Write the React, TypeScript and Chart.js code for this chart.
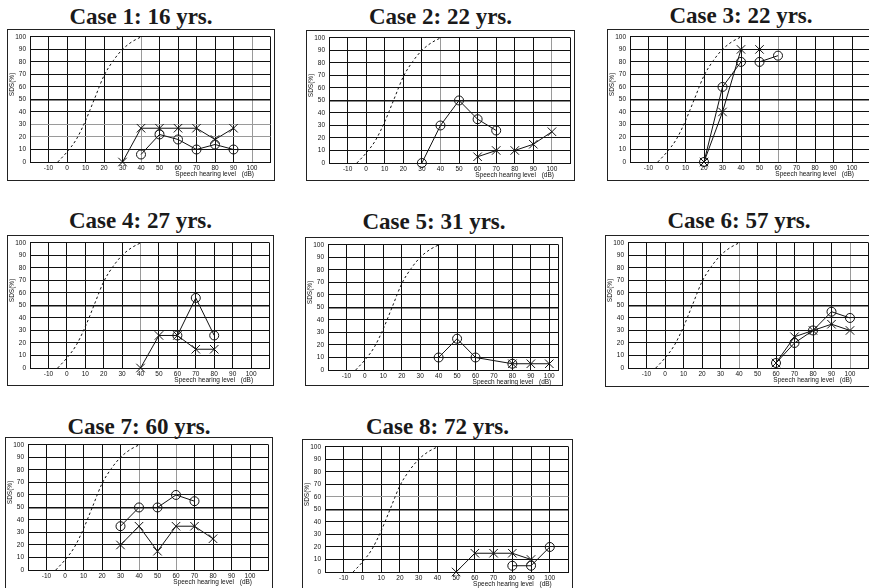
import React, { useEffect, useRef } from 'react';
import Chart from 'chart.js/auto';

type Pt = [number, number];

// Reference curve for normal hearing (speech level in dB vs. score in %)
const normalLevels = [-5, 0, 5, 10, 15, 20, 25, 30, 35, 40];
const normalScores = [0, 8, 18, 33, 51, 69, 81, 90, 96, 100];

const yTickValues = [0, 10, 20, 30, 40, 50, 60, 70, 80, 90, 100];
const xTickValues = [-20, -10, 0, 10, 20, 30, 40, 50, 60, 70, 80, 90, 100];
const xLabelledTicks = [-10, 0, 10, 20, 30, 40, 50, 60, 70, 80, 90, 100];

const caseTitles = [
  'Case 1: 16 yrs.',
  'Case 2: 22 yrs.',
  'Case 3: 22 yrs.',
  'Case 4: 27 yrs.',
  'Case 5: 31 yrs.',
  'Case 6: 57 yrs.',
  'Case 7: 60 yrs.',
  'Case 8: 72 yrs.',
];

// Measured scores: circles (○) and crosses (×); separate arrays where the trace is broken
const case1Circles: Pt[] = [[40, 6], [50, 22], [60, 18], [70, 10], [80, 14], [90, 10]];
const case1Crosses: Pt[] = [[30, 0], [40, 27], [50, 27], [60, 27], [70, 27], [80, 18], [90, 27]];

const case2Circles: Pt[] = [[30, 0], [40, 30], [50, 50], [60, 35], [70, 26]];
const case2Crosses: Pt[] = [[60, 5], [70, 10], [80, 10], [90, 15], [100, 25]];

const case3Circles: Pt[] = [[20, 0], [30, 60], [40, 80]];
const case3CirclesB: Pt[] = [[50, 80], [60, 85]];
const case3Crosses: Pt[] = [[20, 0], [30, 40], [40, 90]];
const case3CrossesB: Pt[] = [[50, 90]];

const case4Circles: Pt[] = [[60, 26], [70, 56], [80, 26]];
const case4Crosses: Pt[] = [[40, 0], [50, 26], [60, 26], [70, 15], [80, 15]];

const case5Circles: Pt[] = [[40, 10], [50, 25], [60, 10], [80, 5]];
const case5Crosses: Pt[] = [[80, 5], [90, 5], [100, 5]];

const case6Circles: Pt[] = [[60, 4], [70, 20], [80, 30], [90, 45], [100, 40]];
const case6Crosses: Pt[] = [[60, 4], [70, 25], [80, 30], [90, 35], [100, 30]];

const case7Circles: Pt[] = [[30, 35], [40, 50]];
const case7CirclesB: Pt[] = [[50, 50], [60, 60], [70, 55]];
const case7Crosses: Pt[] = [[30, 20], [40, 35], [50, 15], [60, 35], [70, 35], [80, 25]];

const case8Circles: Pt[] = [[80, 5], [90, 5], [100, 20]];
const case8Crosses: Pt[] = [[50, 0], [60, 15], [70, 15], [80, 15], [90, 10]];

const caseCircles: Pt[][][] = [
  [case1Circles],
  [case2Circles],
  [case3Circles, case3CirclesB],
  [case4Circles],
  [case5Circles],
  [case6Circles],
  [case7Circles, case7CirclesB],
  [case8Circles],
];
const caseCrosses: Pt[][][] = [
  [case1Crosses],
  [case2Crosses],
  [case3Crosses, case3CrossesB],
  [case4Crosses],
  [case5Crosses],
  [case6Crosses],
  [case7Crosses],
  [case8Crosses],
];
const caseXMax = [110, 110, 110, 110, 105, 110, 110, 110];

// Panel frames on the page
interface Frame {
  left: number;
  top: number;
  width: number;
  height: number;
  titleTop: number;
  lightX: number[];
  lightY: number[];
}
const frames: Frame[] = [
  { left: 7, top: 29, width: 268, height: 152, titleTop: 4.5, lightX: [40, 100], lightY: [20, 30] },
  { left: 306, top: 30, width: 269, height: 151, titleTop: 4.5, lightX: [40, 100], lightY: [] },
  { left: 607, top: 29, width: 268, height: 152, titleTop: 4, lightX: [60], lightY: [] },
  { left: 7, top: 235, width: 267, height: 151, titleTop: 208.5, lightX: [40], lightY: [] },
  { left: 305, top: 237, width: 258, height: 149, titleTop: 209.5, lightX: [], lightY: [] },
  { left: 605, top: 235, width: 268, height: 152, titleTop: 208.5, lightX: [40, 100], lightY: [] },
  { left: 5, top: 437, width: 268, height: 152, titleTop: 414.5, lightX: [40, 60], lightY: [] },
  { left: 302, top: 439, width: 271, height: 150, titleTop: 414.5, lightX: [], lightY: [60] },
];

const PLOT_LEFT = 23;
const PLOT_TOP = 6;
const PLOT_HEIGHT = 127;
const PLOT_RIGHT_PAD = 4.5;
const INK = '#111';
const LIGHT = '#9a9a9a';
const SANS = '"Liberation Sans", Arial, sans-serif';

Chart.defaults.font.family = SANS;

const toXY = (pts: Pt[]) => pts.map(([x, y]) => ({ x, y }));

const frameDecor = {
  id: 'frameDecor',
  afterDraw(chart: any) {
    const { ctx, width, height, scales } = chart;
    ctx.save();
    ctx.strokeStyle = '#222';
    ctx.lineWidth = 1;
    ctx.strokeRect(0.5, 0.5, width - 1, height - 1);

    ctx.fillStyle = INK;
    ctx.font = `6.5px ${SANS}`;
    // y-axis title
    ctx.save();
    ctx.translate(5.5, scales.y.getPixelForValue(62));
    ctx.rotate(-Math.PI / 2);
    ctx.textAlign = 'center';
    ctx.textBaseline = 'middle';
    ctx.fillText('SDS(%)', 0, 0);
    ctx.restore();

    // x-axis title
    const yTitle = chart.chartArea.bottom + 12;
    const x100 = scales.x.getPixelForValue(100);
    ctx.textBaseline = 'middle';
    ctx.textAlign = 'right';
    ctx.fillText('(dB)', x100 + 2, yTitle);
    ctx.fillText('Speech hearing level', x100 - 16, yTitle);
    ctx.restore();
  },
};

function Panel({ index }: { index: number }) {
  const ref = useRef<HTMLCanvasElement>(null);
  const f = frames[index];

  useEffect(() => {
    if (!ref.current) return;
    const xMax = caseXMax[index];
    const xTicks = xMax === 110 ? [...xTickValues, 110] : [...xTickValues, xMax];

    const markerLine = {
      showLine: true,
      borderColor: INK,
      borderWidth: 1,
      pointBorderColor: INK,
      pointBorderWidth: 1,
      pointBackgroundColor: 'rgba(0,0,0,0)',
      clip: false as const,
    };

    const datasets: any[] = [
      {
        data: normalLevels.map((x, i) => ({ x, y: normalScores[i] })),
        borderColor: INK,
        borderWidth: 1,
        borderDash: [2.5, 2.5],
        pointRadius: 0,
        cubicInterpolationMode: 'monotone',
        clip: false,
      },
    ];
    caseCircles[index].forEach((pts) =>
      datasets.push({ ...markerLine, data: toXY(pts), pointStyle: 'circle', pointRadius: 4.5 })
    );
    caseCrosses[index].forEach((pts) =>
      datasets.push({ ...markerLine, data: toXY(pts), pointStyle: 'crossRot', pointRadius: 6 })
    );

    const chart = new Chart(ref.current, {
      type: 'line',
      data: { datasets },
      options: {
        animation: false,
        responsive: false,
        events: [],
        layout: {
          autoPadding: false,
          padding: { left: 0, top: PLOT_TOP, right: PLOT_RIGHT_PAD, bottom: 0 },
        },
        plugins: { legend: { display: false }, tooltip: { enabled: false } },
        scales: {
          x: {
            type: 'linear',
            min: -20,
            max: xMax,
            afterBuildTicks: (s: any) => {
              s.ticks = xTicks.map((value) => ({ value }));
            },
            afterFit: (s: any) => {
              s.height = f.height - PLOT_TOP - PLOT_HEIGHT;
            },
            ticks: {
              autoSkip: false,
              maxRotation: 0,
              padding: 2,
              color: INK,
              font: { size: 6.5 },
              callback: (v: any) => (xLabelledTicks.includes(Number(v)) ? String(v) : ''),
            },
            grid: {
              drawTicks: false,
              lineWidth: 1,
              color: (c: any) => (f.lightX.includes(c.tick?.value) ? LIGHT : INK),
            },
            border: { display: true, color: INK, width: 1 },
          },
          y: {
            type: 'linear',
            min: 0,
            max: 100,
            afterBuildTicks: (s: any) => {
              s.ticks = yTickValues.map((value) => ({ value }));
            },
            afterFit: (s: any) => {
              s.width = PLOT_LEFT;
            },
            ticks: {
              padding: 4,
              color: INK,
              font: { size: 6.5 },
              callback: (v: any) => String(v),
            },
            grid: {
              drawTicks: false,
              color: (c: any) => (f.lightY.includes(c.tick?.value) ? LIGHT : INK),
              lineWidth: (c: any) => (c.tick?.value === 50 ? 1.5 : 1),
            },
            border: { display: true, color: INK, width: 1 },
          },
        },
      },
      plugins: [frameDecor],
    });
    return () => chart.destroy();
  }, [index]);

  return (
    <>
      <div
        style={{
          position: 'absolute',
          left: f.left,
          top: f.titleTop,
          width: f.width,
          textAlign: 'center',
          font: 'bold 23px "Liberation Serif", "Times New Roman", serif',
          lineHeight: '23px',
          color: '#1a1a1a',
          whiteSpace: 'nowrap',
        }}
      >
        {caseTitles[index]}
      </div>
      <canvas
        ref={ref}
        width={f.width}
        height={f.height}
        style={{ position: 'absolute', left: f.left, top: f.top, width: f.width, height: f.height, display: 'block' }}
      />
    </>
  );
}

export default function App() {
  return (
    <div
      style={{
        position: 'fixed',
        left: 0,
        top: 0,
        width: 869,
        height: 588,
        overflow: 'hidden',
        background: '#fff',
      }}
    >
      {caseTitles.map((_, i) => (
        <Panel key={i} index={i} />
      ))}
    </div>
  );
}
